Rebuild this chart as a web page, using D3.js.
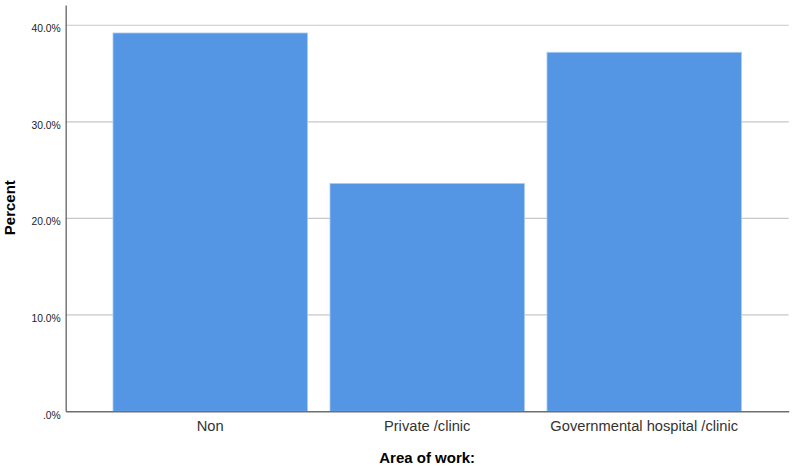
<!DOCTYPE html>
<html>
<head>
<meta charset="utf-8">
<script src="https://cdn.jsdelivr.net/npm/d3@7"></script>
<style>
  body { margin: 0; background: #fff; }
  svg { display: block; font-family: "Liberation Sans", Arial, sans-serif; }
</style>
</head>
<body>
<svg id="chart" width="796" height="467"></svg>
<script>
const categories = ["Non", "Private /clinic", "Governmental hospital /clinic"];
const percents = [39.2, 23.6, 37.2];
const yTicks = [0, 10, 20, 30, 40];
const yTickLabels = [".0%", "10.0%", "20.0%", "30.0%", "40.0%"];

const width = 796, height = 467;
const margin = { top: 5, right: 7.3, bottom: 55.7, left: 65.7 };

const svg = d3.select("#chart");

const x = d3.scaleBand()
  .domain(categories)
  .range([margin.left, width - margin.right])
  .paddingInner(0.104)
  .paddingOuter(0.218);

const y = d3.scaleLinear()
  .domain([0, 42.1])
  .range([height - margin.bottom, margin.top]);

// gridlines
svg.append("g")
  .selectAll("line")
  .data(yTicks.filter(d => d > 0))
  .enter().append("line")
  .attr("x1", margin.left)
  .attr("x2", width - margin.right)
  .attr("y1", d => y(d))
  .attr("y2", d => y(d))
  .attr("stroke", "#c8c8c8")
  .attr("stroke-width", 1.2);

// bars
svg.append("g")
  .selectAll("rect")
  .data(percents)
  .enter().append("rect")
  .attr("x", (d, i) => x(categories[i]))
  .attr("y", d => y(d))
  .attr("width", x.bandwidth())
  .attr("height", d => y(0) - y(d))
  .attr("fill", "#5596e4")
  .attr("stroke", "#a9c9f1")
  .attr("stroke-width", 0.8);

// y axis
const yAxis = d3.axisLeft(y)
  .tickValues(yTicks)
  .tickFormat((d, i) => yTickLabels[i])
  .tickSize(0)
  .tickPadding(5);

svg.append("g")
  .attr("transform", `translate(${margin.left},0)`)
  .call(yAxis)
  .call(g => g.select(".domain").attr("stroke", "#6e6e6e").attr("stroke-width", 1.4))
  .call(g => g.selectAll("text")
    .attr("dy", "0.65em")
    .attr("font-size", 10.3)
    .attr("fill", "#222"));

// x axis
const xAxis = d3.axisBottom(x).tickSize(0).tickPadding(9);

svg.append("g")
  .attr("transform", `translate(0,${y(0)})`)
  .call(xAxis)
  .call(g => g.select(".domain").attr("stroke", "#6e6e6e").attr("stroke-width", 1.4))
  .call(g => g.selectAll("text")
    .attr("font-size", 14.7)
    .attr("fill", "#333"));

// axis titles
svg.append("text")
  .attr("x", (margin.left + width - margin.right) / 2)
  .attr("y", 463)
  .attr("text-anchor", "middle")
  .attr("font-size", 15)
  .attr("font-weight", "bold")
  .attr("fill", "#000")
  .text("Area of work:");

svg.append("text")
  .attr("transform", `translate(15,${y(21.1)}) rotate(-90)`)
  .attr("text-anchor", "middle")
  .attr("font-size", 15)
  .attr("font-weight", "bold")
  .attr("fill", "#000")
  .text("Percent");
</script>
</body>
</html>
